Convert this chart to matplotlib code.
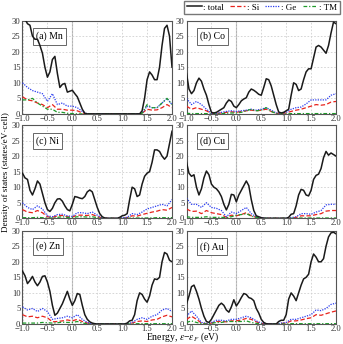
import numpy as np
import matplotlib
matplotlib.use("Agg")
import matplotlib.pyplot as plt

E_TOT = np.linspace(-1.0, 2.0, 61)
E_PART = np.linspace(-1.0, 2.0, 31)

panel_labels = ["(a) Mn", "(b) Co", "(c) Ni", "(d) Cu", "(e) Zn", "(f) Au"]

mn_total = [31, 30.5, 29, 28.5, 25, 24, 24, 22, 19.5, 15, 11.8, 13.5, 17.5, 18.5, 13, 8.5, 9.5, 9.8, 7, 7.3,
            7.6, 6.5, 5.5, 3.5, 1.5, 0.2, 0, 0, 0, 0, 0, 0, 0, 0, 0, 0, 0, 0, 0, 0,
            0, 0, 0, 0, 0, 0, 0, 0, 1, 5, 11, 13.5, 12.5, 11, 11, 15, 22, 27.5, 28.5, 25, 15]
mn_si = [5.5, 4.5, 4.2, 3.5, 3, 2, 3, 1.5, 1.5, 1.2, 1.2, 1, 0.3, 0, 0, 0, 0, 0, 0, 0, 0, 0, 0, 0, 0.2, 1.5, 1.2, 1.3, 2, 3, 2]
mn_ge = [10, 8.5, 7.5, 7, 6.5, 4, 6.5, 3, 3.5, 2.5, 2.5, 2, 0.8, 0, 0, 0, 0, 0, 0, 0, 0, 0, 0, 0, 0.2, 2.5, 2, 2, 3.5, 5, 3]
mn_tm = [4.5, 4.5, 5, 3.5, 2.5, 1.5, 1.5, 0.5, 0.5, 0.2, 0.1, 0, 0, 0, 0, 0, 0, 0, 0, 0, 0, 0, 0, 0, 0.2, 3, 2, 2, 3.5, 5, 3]

co_total = [13, 8, 6.5, 7.5, 10, 11.5, 10.5, 8, 6, 3, 0.5, 0.3, 0.5, 1, 1.5, 2, 3.5, 4.5, 4, 2.5,
            2, 3, 4.2, 4.8, 5.2, 7, 8, 7.6, 7, 6.3, 6, 8.5, 11.3, 11, 9, 6, 3, 0.6, 0.3, 0.5,
            1, 1.5, 6, 10, 9.5, 7.5, 8, 11, 13.5, 14.5, 14.5, 18, 21.5, 22, 21.5, 20.5, 19.5, 22, 26, 29.5, 29]
co_si = [2.5, 1.5, 2, 1.5, 1, 0.1, 0.1, 0.3, 0.5, 0.7, 0.5, 0.8, 1, 1.2, 1, 1.2, 1.5, 0.8, 0.2, 0.1, 0.3, 0.8, 1.2, 1.5, 2, 2.5, 3, 2.8, 3, 3.8, 4]
co_ge = [5, 3, 4, 3, 1.5, 0.2, 0.2, 0.5, 0.8, 1, 0.8, 1, 1.2, 1.5, 1.2, 1.5, 2, 1.2, 0.3, 0.2, 0.5, 1.5, 2, 2.2, 3.2, 4.5, 4.5, 4.5, 4.5, 6, 6.5]
co_tm = [0.2, 0.1, 0.1, 0.1, 0.1, 0, 0, 0.1, 0.2, 0.3, 0.3, 0.5, 1, 1.5, 1, 1.2, 2, 0.8, 0.1, 0, 0, 0.1, 0.1, 0.1, 0.1, 0.1, 0.1, 0.1, 0.1, 0.1, 0.1]

ni_total = [14.5, 13, 12.5, 9, 7.5, 9.5, 12, 11, 8, 5, 2.8, 2.2, 3.2, 5, 6.2, 6.3, 5.5, 4, 2.8, 2.4,
            4.5, 7, 6.8, 6.5, 6.3, 7, 8.5, 9.1, 8.5, 6, 3.5, 1.5, 0.5, 0.1, 0, 0, 0, 0, 0, 0.3,
            0.8, 1, 1.5, 6, 10, 9.5, 7, 7.5, 11, 13.5, 14.5, 15, 18, 22, 22, 21.5, 20, 19, 20, 24, 28]
ni_si = [2.8, 2, 1.8, 2.5, 1.8, 0.5, 0.3, 0.8, 0.9, 0.5, 0.4, 1, 1, 0.9, 1.2, 0.6, 0.1, 0, 0, 0, 0, 0.2, 0.8, 0.7, 1.2, 1.6, 2, 2.3, 2.8, 2.6, 3.5]
ni_ge = [5, 3.5, 2.8, 4, 3, 0.8, 0.5, 1.2, 1.3, 0.8, 0.6, 1.8, 1.8, 1.5, 2, 1, 0.2, 0, 0, 0, 0.2, 0.3, 1.5, 1.2, 2, 3, 3.5, 4, 4.5, 4, 6]
ni_tm = [0.2, 0.2, 0.2, 0.3, 0.2, 0.1, 0.1, 0.3, 0.5, 0.3, 0.2, 0.5, 0.5, 0.4, 0.5, 0.2, 0, 0, 0, 0, 0, 0, 0.1, 0.1, 0.1, 0.1, 0.1, 0.2, 0.2, 0.2, 0.2]

cu_total = [18, 14.5, 13.5, 14, 10, 7.5, 9.5, 13, 15.2, 14, 11, 10, 9.5, 8.5, 7, 4.5, 2.7, 4.5, 7.7, 7.5,
            5.3, 7.5, 9, 10.5, 12, 10.5, 6, 2.5, 0.8, 0.5, 0.2, 0, 0, 0, 0, 0, 0, 0, 0, 0,
            0, 0.3, 1.3, 1.5, 4, 7.5, 9.3, 9, 7.5, 7.2, 9, 12.5, 13.8, 14.2, 16, 19.5, 21.5, 20.3, 21, 20.5, 20]
cu_si = [3, 2.2, 2.3, 1.5, 2.5, 1.8, 1.5, 1.2, 0.3, 1, 0.8, 1.2, 1.8, 0.8, 0.3, 0.1, 0, 0, 0, 0, 0, 0, 0.3, 0.8, 0.8, 0.8, 1.2, 1.5, 2.3, 2.5, 2.5]
cu_ge = [6.5, 4.5, 4.5, 3.5, 5, 3.5, 3.2, 2.5, 0.5, 2, 1.5, 2.5, 3.5, 1.5, 0.5, 0.2, 0, 0, 0, 0, 0, 0.2, 0.5, 1.5, 1.5, 1.3, 2, 2.5, 4.3, 4.5, 4.5]
cu_tm = [0.5, 0.3, 0.3, 0.3, 0.5, 0.3, 0.3, 0.3, 0.2, 0.5, 1, 1.2, 1.5, 0.7, 0.3, 0.1, 0, 0, 0, 0, 0, 0, 0, 0.1, 0.1, 0.1, 0.1, 0.1, 0.1, 0.1, 0.1]

zn_total = [17, 15.5, 13, 14, 15.3, 13.5, 12.3, 13.5, 15.3, 15.5, 13.5, 10.5, 6, 2.8, 3.5, 5, 6.5, 8.5, 10.5, 8,
            6, 7.5, 9.8, 9.5, 6, 3, 1.5, 0.7, 0.3, 0.1, 0, 0, 0, 0, 0, 0, 0, 0, 0, 0,
            0, 0, 0.3, 1, 1.2, 3, 7.5, 10, 9.5, 8, 7, 9, 12.5, 14.5, 14.3, 15, 20, 23, 22.5, 20.5, 20]
zn_si = [3, 2.3, 2.5, 2, 2.5, 2, 0.7, 0.8, 1, 1.3, 1, 1.5, 0.8, 0.3, 0, 0, 0, 0, 0, 0, 0, 0, 0.3, 0.8, 1, 0.8, 1.3, 1.5, 2.3, 2.8, 2.3]
zn_ge = [5.5, 4.5, 5, 4, 5, 4, 1.5, 1.8, 2, 2.5, 2, 3, 1.5, 0.5, 0.1, 0, 0, 0, 0, 0, 0, 0, 0.5, 1.5, 2, 1.5, 2.5, 3, 4.5, 5, 4]
zn_tm = [0.3, 0.3, 0.3, 0.3, 0.5, 0.4, 0.3, 0.4, 0.6, 0.5, 0.5, 0.8, 0.3, 0.1, 0, 0, 0, 0, 0, 0, 0, 0, 0, 0.1, 0.1, 0.1, 0.1, 0.1, 0.1, 0.1, 0.1]

au_total = [6.5, 9, 12, 12.5, 10.5, 8, 5, 2.5, 0.8, 0.5, 1.5, 3, 4.5, 6, 6.7, 6, 4.5, 3.8, 5.5, 7.8,
            5.8, 7, 8.5, 9.8, 9.5, 8.5, 8.2, 7.5, 5, 3.5, 1.5, 0.5, 0.1, 0, 0, 0, 0, 0.8, 1.2, 1.2,
            3, 8, 10, 9, 7.5, 10, 12.5, 14.5, 15, 16, 20, 22.5, 21.5, 20, 20, 21, 25, 28, 29.3, 29.5, 29]
au_si = [1.5, 2.5, 1.5, 0.3, 0.1, 0.3, 0.8, 0.8, 0.7, 1, 1, 1.3, 1.8, 1.5, 0.7, 0.2, 0, 0, 0, 0.2, 0.3, 1, 1, 1.3, 1.7, 2, 3, 2.8, 3.3, 3.8, 4.2]
au_ge = [2.5, 4.2, 2.5, 0.5, 0.2, 0.5, 1.2, 1.2, 1, 1.5, 1.5, 2, 2.5, 2, 1, 0.3, 0.1, 0, 0, 0.3, 0.5, 1.5, 1.5, 2, 2.5, 3, 4.5, 4.3, 5, 6.3, 6.7]
au_tm = [0.5, 1, 0.5, 0.1, 0, 0.2, 0.5, 0.5, 0.8, 0.8, 0.8, 0.8, 1, 0.5, 0.2, 0, 0, 0, 0, 0, 0, 0.1, 0.1, 0.1, 0.1, 0.1, 0.1, 0.1, 0.1, 0.1, 0.1]

totals = [mn_total, co_total, ni_total, cu_total, zn_total, au_total]
sis = [mn_si, co_si, ni_si, cu_si, zn_si, au_si]
ges = [mn_ge, co_ge, ni_ge, cu_ge, zn_ge, au_ge]
tms = [mn_tm, co_tm, ni_tm, cu_tm, zn_tm, au_tm]

x_ticks = [-1.0, -0.5, 0.0, 0.5, 1.0, 1.5, 2.0]
y_ticks = [0, 5, 10, 15, 20, 25, 30]

plt.rcParams['font.family'] = ['Liberation Serif', 'DejaVu Serif']
plt.rcParams['mathtext.fontset'] = 'stix'

W, H = 343, 344
fig = plt.figure(figsize=(W / 100, H / 100), dpi=100)

lefts = [22.5, 186.5]
tops = [20.6, 125.0, 230.7]
aw, ah = 149.5, 93.3

c_tot, c_si, c_ge, c_tm = '#1a1a1a', '#e8221c', '#2a3cf0', '#1f9a2a'

lines_for_legend = None
for i in range(6):
    r, c = divmod(i, 2)
    ax = fig.add_axes([lefts[c] / W, 1 - (tops[r] + ah) / H, aw / W, ah / H])
    ax.axvline(0, color='#b0b0b0', lw=0.8, zorder=1)
    l_tot, = ax.plot(E_TOT, totals[i], color=c_tot, lw=1.1, zorder=5)
    l_si, = ax.plot(E_PART, sis[i], color=c_si, lw=0.9, ls=(0, (3.5, 1.8)), zorder=3)
    l_ge, = ax.plot(E_PART, ges[i], color=c_ge, lw=0.9, ls=(0, (1, 1)), zorder=3)
    l_tm, = ax.plot(E_PART, tms[i], color=c_tm, lw=0.9, ls=(0, (3, 1.5, 1, 1.5)), zorder=4)
    if lines_for_legend is None:
        lines_for_legend = [l_tot, l_si, l_ge, l_tm]
    ax.set_xlim(-1.0, 2.0)
    ax.set_ylim(0, 30)
    ax.set_xticks(x_ticks)
    ax.set_yticks(y_ticks)
    ax.set_xticklabels([f"{v:.1f}".replace('-', '\u2212') for v in x_ticks])
    ax.set_yticklabels([str(v) for v in y_ticks])
    ax.tick_params(labelsize=6.2, length=0, colors='#333333')
    ax.tick_params(axis='x', pad=0.5)
    ax.tick_params(axis='y', pad=1.5)
    ax.grid(True, ls=(0, (2, 2)), color='#d0d0d0', lw=0.6)
    for s in ax.spines.values():
        s.set_color('#555555')
        s.set_linewidth(0.8)
    ax.text(0.09, 0.83, panel_labels[i], transform=ax.transAxes, fontsize=7,
            ha='left', va='center',
            bbox=dict(boxstyle='square,pad=0.35', fc='white', ec='#666666', lw=0.7))

fig.legend(lines_for_legend, [': total', ': Si', ': Ge', ': TM'], ncol=4,
           loc='upper right', bbox_to_anchor=(340 / W, 1 - 0.5 / H), fontsize=6.5,
           frameon=True, fancybox=False, edgecolor='#555555', handlelength=1.6,
           handletextpad=0.2, columnspacing=0.7, borderpad=0.3, borderaxespad=0)

fig.text(6 / W, 1 - 172 / H, 'Density of states (states/eV\u00b7cell)', rotation=90,
         ha='center', va='center', fontsize=6.6)
fig.text(183 / W, 1 - 337.5 / H, 'Energy, $\\epsilon$\u2212$\\epsilon_F$ (eV)', ha='center', va='center', fontsize=7)

fig.savefig('out.png', dpi=100)
